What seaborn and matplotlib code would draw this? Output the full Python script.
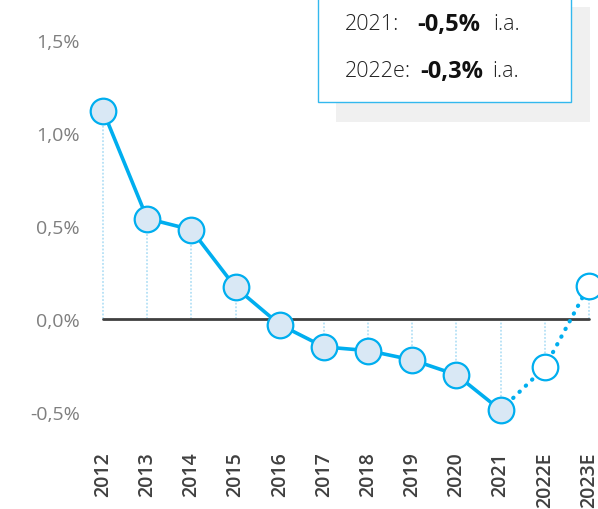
import matplotlib
matplotlib.use("Agg")
import matplotlib.pyplot as plt
import matplotlib.patches as mpatches
import seaborn as sns
import pandas as pd
import numpy as np

years = ["2012", "2013", "2014", "2015", "2016", "2017", "2018", "2019", "2020", "2021", "2022E", "2023E"]
values = [1.12, 0.54, 0.48, 0.17, -0.03, -0.15, -0.17, -0.22, -0.30, -0.49, -0.26, 0.18]
is_estimate = [False] * 10 + [True, True]
y_ticks = [-0.5, 0.0, 0.5, 1.0, 1.5]
y_tick_labels = ["-0,5%", "0,0%", "0,5%", "1,0%", "1,5%"]
box_lines = [("2021:", "-0,5%", "i.a."), ("2022e:", "-0,3%", "i.a.")]

BLUE = "#00aeef"
LIGHT = "#d9e8f5"
DOTV = "#b5e1f6"

sns.set_theme(style="white")
plt.rcParams["font.family"] = ["Open Sans", "DejaVu Sans"]

df = pd.DataFrame({"year": years, "value": values, "est": is_estimate})
df["x"] = np.arange(len(df))

W, H = 598, 510
fig = plt.figure(figsize=(W / 100, H / 100), dpi=100)
ax_l, ax_r, ax_t, ax_b = 80, 598, 20, 440
ax = fig.add_axes([ax_l / W, 1 - ax_b / H, (ax_r - ax_l) / W, (ax_b - ax_t) / H])

px_per = 44.18
ax.set_xlim((ax_l - 103) / px_per, (ax_r - 103) / px_per)
ax.set_ylim((320 - ax_b) / 186, (320 - ax_t) / 186)

# vertical dotted guides
ax.vlines(df["x"], 0, df["value"], colors=DOTV, linestyles=(0, (1, 1)), linewidth=1.3, zorder=1)
# zero line
ax.plot([df["x"].iloc[0], df["x"].iloc[-1]], [0, 0], color="#404040", linewidth=2.0, zorder=2)

actual = df[~df["est"]]
proj = df[df["x"] >= 9]
sns.lineplot(data=actual, x="x", y="value", ax=ax, color=BLUE, linewidth=2.6, zorder=3,
             solid_capstyle="round", solid_joinstyle="round")
l2 = sns.lineplot(data=proj, x="x", y="value", ax=ax, color=BLUE, linewidth=3.0, zorder=3)
l2.lines[-1].set_linestyle((0, (0.1, 2.0)))
l2.lines[-1].set_dash_capstyle("round")

sns.scatterplot(data=actual, x="x", y="value", ax=ax, s=340, color=LIGHT, edgecolor=BLUE,
                linewidth=1.6, zorder=4)
sns.scatterplot(data=df[df["est"]], x="x", y="value", ax=ax, s=340, color="white", edgecolor=BLUE,
                linewidth=1.6, zorder=4)
for c in ax.collections:
    c.set_clip_on(False)

ax.set_yticks(y_ticks)
ax.set_yticklabels(y_tick_labels, color="#7f7f7f", fontsize=14)
ax.set_xticks(df["x"])
ax.set_xticklabels(years, rotation=90, color="#404040", fontsize=14, fontweight="semibold")
ax.tick_params(axis="both", length=0)
ax.tick_params(axis="y", pad=0)
ax.tick_params(axis="x", pad=9)
ax.set_xlabel("")
ax.set_ylabel("")
for s in ax.spines.values():
    s.set_visible(False)

# info box
def rect_px(x0, y0, x1, y1, **kw):
    return mpatches.Rectangle((x0 / W, 1 - y1 / H), (x1 - x0) / W, (y1 - y0) / H,
                              transform=fig.transFigure, **kw)

fig.patches.append(rect_px(336, 8, 590, 123, facecolor="#f0f0f0", edgecolor="none", zorder=5))
fig.patches.append(rect_px(318, -5, 571, 103, facecolor="white", edgecolor="#33b8ee", linewidth=1.0, zorder=6))

rows_y = [25, 72]
col_x = [(345, 417, 493), (345, 420, 492)]
for (lab, val, unit), yy, (x1, x2, x3) in zip(box_lines, rows_y, col_x):
    fig.text(x1 / W, 1 - yy / H, lab, fontsize=15.5, color="#222222", fontweight="light",
             va="center", ha="left", zorder=7)
    fig.text(x2 / W, 1 - yy / H, val, fontsize=17, color="#111111", fontweight="bold",
             va="center", ha="left", zorder=7)
    fig.text(x3 / W, 1 - yy / H, unit, fontsize=15.5, color="#222222", fontweight="light",
             va="center", ha="left", zorder=7)

fig.savefig("out.png", dpi=100)
